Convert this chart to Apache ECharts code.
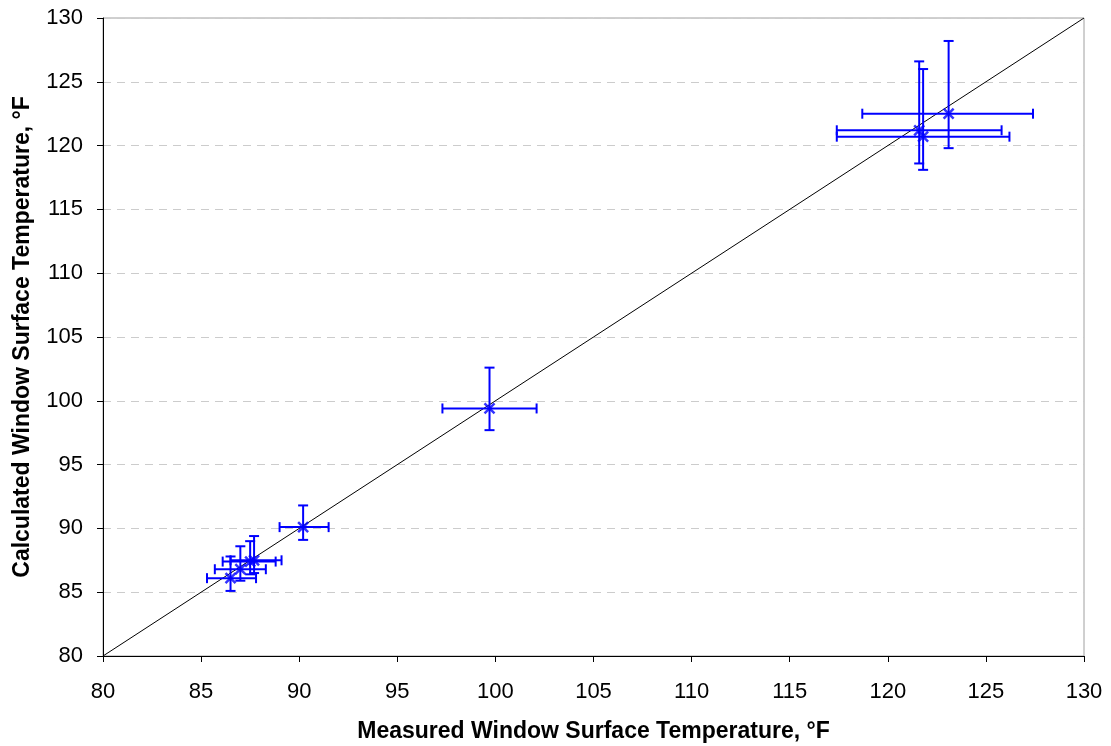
<!DOCTYPE html>
<html>
<head>
<meta charset="utf-8">
<script src="https://cdn.jsdelivr.net/npm/echarts@6/dist/echarts.min.js"></script>
<style>
  html, body { margin: 0; padding: 0; background: #fff; }
  #chart { width: 1111px; height: 746px; }
</style>
</head>
<body>
<div id="chart"></div>
<script>
// Measured vs. calculated window surface temperatures (°F) with uncertainty ranges
const measured   = [90.2, 86.5, 87.0, 87.5, 87.7, 99.7, 123.1, 121.6, 121.8];
const calculated = [90.1, 86.1, 86.8, 87.4, 87.5, 99.4, 122.5, 121.2, 120.7];
const measuredLow   = [89.0, 85.3, 85.7, 86.1, 86.5, 97.3, 118.7, 117.4, 117.4];
const measuredHigh  = [91.5, 87.8, 88.3, 88.8, 89.1, 102.1, 127.4, 125.8, 126.2];
const calculatedLow  = [89.1, 85.1, 85.9, 86.4, 86.5, 97.7, 119.8, 118.6, 118.1];
const calculatedHigh = [91.8, 87.8, 88.6, 89.0, 89.4, 102.6, 128.2, 126.6, 126.0];
// 1:1 reference line end points
const parityLine = [80, 130];

const BLUE = '#0000ff';
const CAP = 5;

const points = measured.map((m, i) => [m, calculated[i]]);
const errorRows = measured.map((m, i) =>
  [m, calculated[i], measuredLow[i], measuredHigh[i], calculatedLow[i], calculatedHigh[i]]);

function renderErrorBars(params, api) {
  const x = api.value(0), y = api.value(1);
  const xl = api.coord([api.value(2), y]);
  const xh = api.coord([api.value(3), y]);
  const yl = api.coord([x, api.value(4)]);
  const yh = api.coord([x, api.value(5)]);
  const style = { stroke: BLUE, lineWidth: 2 };
  const seg = (x1, y1, x2, y2) => ({ type: 'line', shape: { x1, y1, x2, y2 }, style });
  return {
    type: 'group',
    children: [
      seg(xl[0], xl[1], xh[0], xh[1]),
      seg(xl[0], xl[1] - CAP, xl[0], xl[1] + CAP),
      seg(xh[0], xh[1] - CAP, xh[0], xh[1] + CAP),
      seg(yl[0], yl[1], yh[0], yh[1]),
      seg(yl[0] - CAP, yl[1], yl[0] + CAP, yl[1]),
      seg(yh[0] - CAP, yh[1], yh[0] + CAP, yh[1])
    ]
  };
}

const chart = echarts.init(document.getElementById('chart'), null, { renderer: 'canvas' });
const axisFont = { fontFamily: 'Liberation Sans, Arial, sans-serif', color: '#000' };

chart.setOption({
  animation: false,
  backgroundColor: '#fff',
  grid: {
    left: 103, right: 27, top: 18, bottom: 90,
    outerBoundsMode: 'none', containLabel: false,
    show: true, borderColor: '#a0a0a0', borderWidth: 1
  },
  xAxis: {
    type: 'value', min: 80, max: 130, interval: 5,
    name: 'Measured Window Surface Temperature, °F',
    nameLocation: 'middle', nameGap: 64,
    nameTextStyle: Object.assign({ fontSize: 23, fontWeight: 'bold' }, axisFont),
    axisLine: { show: true, onZero: false, lineStyle: { color: '#000', width: 1 } },
    axisTick: { show: true, inside: false, length: 6, lineStyle: { color: '#000' } },
    axisLabel: Object.assign({ fontSize: 22, margin: 25 }, axisFont),
    splitLine: { show: false }
  },
  yAxis: {
    type: 'value', min: 80, max: 130, interval: 5,
    name: 'Calculated Window Surface Temperature, °F',
    nameLocation: 'middle', nameGap: 69,
    nameTextStyle: Object.assign({ fontSize: 23, fontWeight: 'bold' }, axisFont),
    axisLine: { show: true, onZero: false, lineStyle: { color: '#000', width: 1 } },
    axisTick: { show: true, inside: false, length: 6, lineStyle: { color: '#000' } },
    axisLabel: Object.assign({ fontSize: 22, margin: 20 }, axisFont),
    splitLine: { show: true, lineStyle: { color: '#cccccc', width: 1, type: [8, 6] } }
  },
  series: [
    {
      type: 'line',
      data: [[parityLine[0], parityLine[0]], [parityLine[1], parityLine[1]]],
      symbol: 'none',
      lineStyle: { color: '#000', width: 1 },
      silent: true,
      z: 2
    },
    {
      type: 'custom',
      data: errorRows,
      renderItem: renderErrorBars,
      encode: { x: 0, y: 1 },
      clip: true,
      z: 3
    },
    {
      type: 'scatter',
      data: points,
      symbol: 'path://M0,0L10,10M10,0L0,10',
      symbolSize: 10,
      itemStyle: { color: 'rgba(0,0,0,0)', borderColor: BLUE, borderWidth: 2.5 },
      z: 4
    }
  ]
});
</script>
</body>
</html>
